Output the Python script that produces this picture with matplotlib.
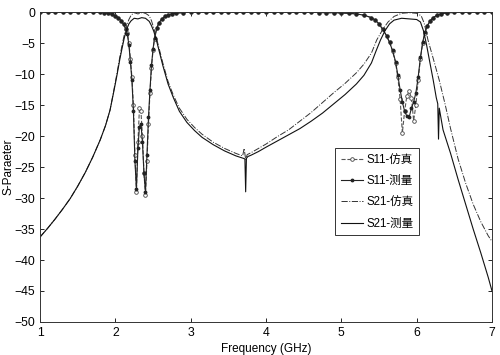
import matplotlib
matplotlib.use('Agg')
import matplotlib.pyplot as plt

plt.rcParams['font.family'] = ['Liberation Sans', 'Noto Sans CJK SC', 'DejaVu Sans']

# S11 simulated
f11_sim = [1.0, 1.1, 1.2, 1.3, 1.4, 1.5, 1.6, 1.7, 1.8, 1.85, 1.9, 1.95, 2.0, 2.04, 2.08,
           2.11, 2.14, 2.16, 2.18, 2.2, 2.22, 2.24, 2.26, 2.28, 2.30, 2.32, 2.34, 2.36,
           2.38, 2.40, 2.42, 2.44, 2.46, 2.48, 2.5, 2.52, 2.55, 2.58, 2.62, 2.66, 2.7,
           2.75, 2.8, 2.9, 3.0, 3.1, 3.2, 3.3, 3.4, 3.5, 3.6, 3.7, 3.8, 3.9, 4.0, 4.1,
           4.2, 4.3, 4.4, 4.5, 4.6, 4.7, 4.8, 4.9, 5.0, 5.1, 5.2, 5.3, 5.4, 5.45, 5.5,
           5.55, 5.6, 5.64, 5.68, 5.72, 5.75, 5.78, 5.81, 5.84, 5.87, 5.9, 5.93, 5.96,
           5.99, 6.02, 6.05, 6.08, 6.11, 6.14, 6.18, 6.22, 6.27, 6.32, 6.4, 6.5, 6.6,
           6.7, 6.8, 6.9, 7.0]
s11_sim = [0, 0, 0, 0, 0, 0, 0, -0.02, -0.05, -0.1, -0.2, -0.35, -0.6, -0.9, -1.4,
           -2.0, -2.7, -3.4, -5.0, -7.5, -10.5, -15, -23, -29, -21, -15.5, -16, -20,
           -26, -29.5, -24, -18, -13, -9, -6.2, -4.3, -2.6, -1.7, -1.1, -0.7, -0.45,
           -0.3, -0.2, -0.08, -0.03, 0, 0, 0, 0, 0, 0, 0, 0, 0, 0, 0,
           0, 0, -0.02, -0.03, -0.05, -0.07, -0.1, -0.12, -0.15, -0.2, -0.3, -0.5, -0.9, -1.3, -1.9,
           -2.8, -3.8, -4.9, -6.3, -8.2, -10.5, -14, -19.5, -16, -13.5, -12.8, -13.8, -17.5,
           -15, -11, -7.5, -5, -3.3, -2.3, -1.4, -0.9, -0.5, -0.3, -0.15, -0.05, -0.02,
           0, 0, 0, 0]

# S11 measured
f11_meas = [1.0, 1.1, 1.2, 1.3, 1.4, 1.5, 1.6, 1.7, 1.8, 1.85, 1.9, 1.95, 2.0, 2.04, 2.08,
            2.11, 2.14, 2.16, 2.18, 2.2, 2.22, 2.24, 2.26, 2.28, 2.30, 2.32, 2.34, 2.36,
            2.38, 2.40, 2.42, 2.44, 2.46, 2.48, 2.5, 2.52, 2.55, 2.58, 2.62, 2.66, 2.7,
            2.75, 2.8, 2.9, 3.0, 3.1, 3.2, 3.3, 3.4, 3.5, 3.6, 3.7, 3.8, 3.9, 4.0, 4.1,
            4.2, 4.3, 4.4, 4.5, 4.6, 4.7, 4.8, 4.9, 5.0, 5.1, 5.2, 5.3, 5.4, 5.45, 5.5,
            5.55, 5.6, 5.64, 5.68, 5.72, 5.75, 5.78, 5.81, 5.84, 5.87, 5.9, 5.93, 5.96,
            5.99, 6.02, 6.05, 6.08, 6.11, 6.14, 6.18, 6.22, 6.27, 6.32, 6.4, 6.5, 6.6,
            6.7, 6.8, 6.9, 7.0]
s11_meas = [0, 0, 0, 0, 0, 0, 0, -0.02, -0.05, -0.1, -0.2, -0.35, -0.6, -0.9, -1.4,
            -2.0, -2.8, -3.6, -5.3, -8.0, -11, -16, -24, -28.5, -22, -18.5, -18, -21,
            -26, -29, -23, -17, -12.5, -8.6, -6.0, -4.2, -2.6, -1.7, -1.1, -0.7, -0.45,
            -0.3, -0.2, -0.08, -0.03, 0, 0, 0, 0, 0, 0, 0, 0, 0, 0, 0,
            0, 0, -0.02, -0.03, -0.05, -0.07, -0.1, -0.12, -0.15, -0.2, -0.3, -0.5, -0.9, -1.3, -1.9,
            -2.8, -3.8, -4.9, -6.2, -8.0, -10.2, -12.5, -14.5, -16, -16.8, -17, -15.5, -14.5,
            -13, -10.5, -7.3, -4.9, -3.2, -2.2, -1.4, -0.9, -0.5, -0.3, -0.15, -0.05, -0.02,
            0, 0, 0, 0]

# S21 simulated
f21_sim = [1.0, 1.1, 1.2, 1.3, 1.4, 1.5, 1.6, 1.7, 1.8, 1.87, 1.93, 1.98, 2.02, 2.06,
           2.09, 2.12, 2.15, 2.18, 2.21, 2.25, 2.3, 2.35, 2.4, 2.45, 2.48, 2.51, 2.54,
           2.58, 2.63, 2.7, 2.77, 2.85, 2.95, 3.05, 3.15, 3.3, 3.45, 3.6, 3.69, 3.71,
           3.73, 3.75, 3.8, 3.9, 4.0, 4.15, 4.3, 4.45, 4.6, 4.75, 4.9, 5.05, 5.2, 5.3,
           5.4, 5.47, 5.55, 5.62, 5.7, 5.8, 5.9, 6.0, 6.06, 6.1, 6.15, 6.22, 6.3, 6.38,
           6.45, 6.55, 6.65, 6.75, 6.85, 6.95, 7.0]
s21_sim = [-36.3, -34.9, -33.4, -31.8, -30.1, -28.1, -25.9, -23.4, -20.6, -18.3, -15.8,
           -12.6, -10.0, -7.2, -5.3, -3.6, -2.2, -1.2, -0.5, -0.1, -0.3, -0.1, -0.2,
           -0.6, -1.4, -2.6, -3.9, -5.8, -8.2, -11.2, -13.4, -15.5, -17.3, -18.6, -19.7,
           -21.0, -22.0, -22.8, -23.2, -22.0, -23.8, -23.0, -22.7, -22.0, -21.3, -20.1,
           -19.0, -17.6, -16.2, -14.6, -13.0, -11.5, -9.8, -8.4, -6.6, -4.5, -2.8, -1.6,
           -0.7, -0.2, -0.1, -0.2, -0.6, -1.8, -4.5, -7.5, -11, -15, -18.8, -23.7, -27.6,
           -31, -33.8, -36.1, -37]

# S21 measured
f21_meas = [1.0, 1.1, 1.2, 1.3, 1.4, 1.5, 1.6, 1.7, 1.8, 1.87, 1.93, 1.98, 2.02, 2.06,
            2.09, 2.12, 2.15, 2.18, 2.21, 2.25, 2.3, 2.35, 2.4, 2.45, 2.48, 2.51, 2.54,
            2.58, 2.63, 2.7, 2.77, 2.85, 2.95, 3.05, 3.15, 3.3, 3.45, 3.6, 3.7, 3.72,
            3.73, 3.74, 3.76, 3.8, 3.9, 4.0, 4.15, 4.3, 4.45, 4.6, 4.75, 4.9, 5.05, 5.2,
            5.3, 5.4, 5.46, 5.52, 5.58, 5.64, 5.7, 5.8, 5.9, 6.0, 6.05, 6.09, 6.13, 6.17,
            6.22, 6.26, 6.28, 6.29, 6.3, 6.35, 6.45, 6.55, 6.65, 6.75, 6.85, 6.95, 7.0]
s21_meas = [-36.3, -34.9, -33.4, -31.8, -30.1, -28.1, -25.9, -23.4, -20.6, -18.3, -15.8,
            -12.8, -10.3, -7.6, -5.8, -4.1, -2.8, -1.9, -1.4, -1.0, -1.1, -0.9, -1.0,
            -1.5, -2.2, -3.1, -4.3, -6.2, -8.6, -11.6, -13.8, -16.0, -17.8, -19.1, -20.2,
            -21.4, -22.4, -23.2, -23.6, -23.7, -29.0, -23.6, -23.3, -23.1, -22.5, -21.8,
            -20.8, -19.8, -18.8, -17.6, -16.3, -14.8, -13.3, -11.6, -10.2, -8.2, -6.3,
            -4.5, -3.0, -1.9, -1.3, -1.0, -1.1, -1.2, -1.6, -3.0, -5.2, -7.8, -11.0,
            -13.8, -14.8, -20.5, -15.5, -19.0, -22.8, -27.0, -31.0, -35.0, -38.8, -42.8,
            -45.0]

x_ticks = [1, 2, 3, 4, 5, 6, 7]
y_ticks = [0, -5, -10, -15, -20, -25, -30, -35, -40, -45, -50]

fig = plt.figure(figsize=(5.0, 3.55), dpi=100)
ax = fig.add_axes([0.08, 0.093, 0.904, 0.873])

ax.plot(f11_sim, s11_sim, '--', color='#555555', lw=0.8, marker='o', ms=2.6,
        mfc='white', mec='#444444', mew=0.6, label='S11-仿真')
ax.plot(f11_meas, s11_meas, '-', color='#222222', lw=0.8, marker='.', ms=3.5,
        label='S11-测量')
ax.plot(f21_sim, s21_sim, '-.', color='#333333', lw=0.7, label='S21-仿真')
ax.plot(f21_meas, s21_meas, '-', color='#111111', lw=0.8, label='S21-测量')

ax.set_xlim(1, 7)
ax.set_ylim(-50, 0)
ax.set_xticks(x_ticks)
ax.set_yticks(y_ticks)
ax.tick_params(direction='in', top=True, right=True, labelsize=8.8, length=3, width=0.6)
for sp in ax.spines.values():
    sp.set_linewidth(0.7)
    sp.set_color('#333333')

ax.set_xlabel('Frequency (GHz)', fontsize=8.5, labelpad=3)
ax.set_ylabel('S-Paraeter', fontsize=8.5, labelpad=0)

leg = ax.legend(loc='upper left', bbox_to_anchor=(0.653, 0.561), borderaxespad=0,
                fontsize=8.3, fancybox=False, edgecolor='#333333', framealpha=1,
                handlelength=1.9, labelspacing=0.8, borderpad=0.5, handletextpad=0.3)
leg.get_frame().set_linewidth(0.7)

fig.savefig('out.png', dpi=100)
